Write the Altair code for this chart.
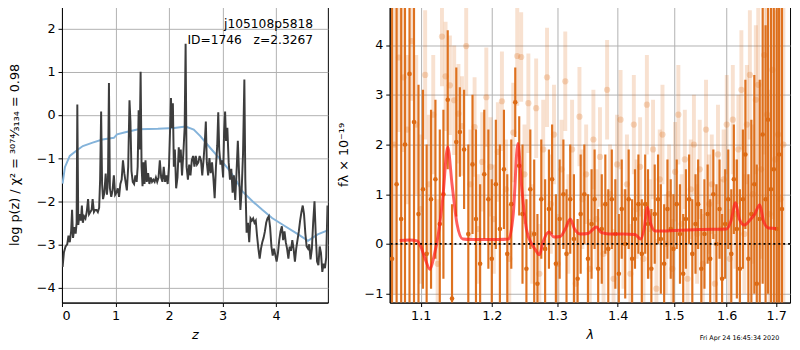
import altair as alt
import pandas as pd

# ---------------- left panel: log p(z) ----------------
pz_z = [0.012, 0.037, 0.067, 0.098, 0.122, 0.146, 0.171, 0.189, 0.207, 0.232, 0.256, 0.274, 0.287, 0.305, 0.329,
        0.354, 0.372, 0.390, 0.415, 0.439, 0.463, 0.488, 0.506, 0.530, 0.555, 0.573, 0.598, 0.622, 0.646, 0.671,
        0.695, 0.713, 0.732, 0.750, 0.768, 0.793, 0.817, 0.841, 0.860, 0.878, 0.896, 0.921, 0.945, 0.970, 0.994,
        1.018, 1.043, 1.067, 1.091, 1.116, 1.140, 1.165, 1.189, 1.213, 1.238, 1.262, 1.280, 1.299, 1.323, 1.348,
        1.372, 1.396, 1.415, 1.433, 1.451, 1.470, 1.488, 1.506, 1.524, 1.543, 1.561, 1.585, 1.610, 1.634, 1.659,
        1.683, 1.707, 1.732, 1.756, 1.780, 1.805, 1.829, 1.854, 1.878, 1.902, 1.927, 1.951, 1.976, 2.000, 2.024,
        2.037, 2.055, 2.073, 2.091, 2.110, 2.134, 2.159, 2.183, 2.201, 2.220, 2.244, 2.268, 2.293, 2.311, 2.329,
        2.354, 2.378, 2.402, 2.427, 2.451, 2.476, 2.500, 2.524, 2.549, 2.573, 2.598, 2.622, 2.646, 2.671, 2.689,
        2.707, 2.732, 2.756, 2.780, 2.805, 2.829, 2.854, 2.878, 2.902, 2.921, 2.939, 2.963, 2.988, 3.012, 3.030,
        3.049, 3.067, 3.091, 3.116, 3.140, 3.165, 3.189, 3.213, 3.238, 3.262, 3.287, 3.311, 3.335, 3.360, 3.384,
        3.409, 3.427, 3.451, 3.476, 3.500, 3.524, 3.549, 3.573, 3.598, 3.622, 3.646, 3.671, 3.695, 3.720, 3.744,
        3.768, 3.793, 3.817, 3.841, 3.866, 3.890, 3.915, 3.939, 3.963, 3.988, 4.012, 4.037, 4.061, 4.085, 4.110,
        4.134, 4.159, 4.183, 4.207, 4.232, 4.256, 4.280, 4.305, 4.329, 4.354, 4.378, 4.402, 4.427, 4.451, 4.476,
        4.500, 4.524, 4.549, 4.573, 4.598, 4.622, 4.646, 4.671, 4.695, 4.720, 4.744, 4.768, 4.793, 4.817, 4.841,
        4.866, 4.890, 4.915, 4.939, 4.963]
pz_logp = [-3.52, -3.18, -3.05, -3.00, -2.80, -2.95, -2.70, -2.20, -2.85, -2.60, -2.75, -2.50, 0.24, -2.55, -2.30,
           -2.45, -2.10, -2.50, -2.35, -2.40, -2.25, -1.95, -2.30, -2.25, -2.20, -1.95, -2.25, -2.20, -2.20, -2.25,
           -2.15, -1.50, 0.08, -1.60, -1.95, -1.80, -1.36, -1.85, -1.50, 0.74, -1.70, -1.90, -1.75, -1.40, -1.85,
           -1.80, -1.70, -1.90, -1.60, -1.50, -1.05, -1.35, -1.55, -1.75, -1.20, 0.34, -0.15, -1.30, -1.55, -1.60,
           -1.40, -1.55, -1.20, 0.11, -0.80, 1.00, -1.20, -1.65, -1.10, -1.60, -1.05, -1.55, -1.35, -1.60, -1.45,
           -1.55, -1.50, -1.55, -1.45, -1.55, -1.45, -1.05, -1.45, -1.55, -1.20, -1.55, -1.40, -1.60, -1.20, -0.20,
           0.39, -0.30, 0.27, -1.20, -0.80, -1.70, -1.45, -0.75, -1.10, -0.80, -1.40, -0.90, -0.30, 1.65, -1.20,
           -1.50, -1.15, -1.40, -1.05, -0.95, -1.20, -0.95, -1.15, -1.10, -0.95, -1.05, -1.40, -1.05, -0.60, -0.15,
           -1.10, -1.40, -1.00, -1.35, -1.10, -1.45, -1.93, -1.20, -0.70, 0.06, -0.80, -1.15, -1.05, -1.45, -0.40,
           0.08, -0.60, -0.30, -1.10, -1.50, -1.25, -1.80, -1.40, -1.97, -1.35, -0.60, -1.40, -2.20, -1.70, -0.90,
           0.82, -1.50, -2.73, -2.50, -2.95, -2.40, -2.45, -2.40, -2.50, -2.45, -2.80, -3.10, -3.33, -3.10, -2.95,
           -2.85, -2.70, -2.50, -2.40, -2.35, -2.60, -3.05, -3.26, -3.10, -3.25, -3.40, -3.20, -2.90, -2.70, -2.58,
           -2.90, -2.70, -2.95, -3.10, -3.33, -3.05, -3.15, -2.90, -3.10, -3.40, -3.10, -2.90, -2.70, -2.45, -2.25,
           -2.10, -2.30, -2.75, -3.05, -3.10, -3.00, -3.35, -3.10, -2.50, -2.00, -2.80, -3.40, -3.48, -3.05, -3.20,
           -3.64, -3.45, -3.55, -3.30, -2.10]

prior_z = [0.012, 0.055, 0.146, 0.268, 0.390, 0.573, 0.756, 0.970, 1.030, 1.183, 1.427, 1.793, 2.098, 2.311, 2.463,
           2.585, 2.768, 2.951, 3.134, 3.256, 3.378, 3.561, 3.744, 3.927, 4.171, 4.415, 4.598, 4.780, 4.976]
prior_logp = [-1.59, -1.21, -0.95, -0.83, -0.72, -0.64, -0.57, -0.53, -0.45, -0.40, -0.33, -0.32, -0.30, -0.27, -0.34,
              -0.49, -0.76, -1.02, -1.29, -1.52, -1.78, -2.00, -2.20, -2.39, -2.58, -2.77, -2.92, -2.77, -2.67]

z_ticks = [0, 1, 2, 3, 4]
logp_ticks = [-4, -3, -2, -1, 0, 1, 2]
annot_name = ["j105108p5818"]
annot_id = ["ID=1746\u00a0\u00a0\u00a0z=2.3267"]

# ---------------- right panel: spectrum ----------------
dark_lam = [1.062, 1.068, 1.074, 1.079, 1.085, 1.091, 1.097, 1.103, 1.108, 1.114, 1.120, 1.126, 1.131, 1.137, 1.143,
            1.149, 1.154, 1.160, 1.166, 1.172, 1.177, 1.183, 1.189, 1.195, 1.200, 1.206, 1.212, 1.218, 1.223, 1.229,
            1.235, 1.241, 1.246, 1.252, 1.258, 1.264, 1.269, 1.275, 1.281, 1.287, 1.292, 1.298, 1.304, 1.310, 1.315,
            1.321, 1.327, 1.333, 1.338, 1.344, 1.350, 1.356, 1.361, 1.367, 1.373, 1.379, 1.384, 1.390, 1.396, 1.402,
            1.407, 1.413, 1.419, 1.425, 1.430, 1.436, 1.442, 1.448, 1.453, 1.459, 1.465, 1.471, 1.476, 1.482, 1.488,
            1.494, 1.499, 1.505, 1.511, 1.517, 1.522, 1.528, 1.534, 1.540, 1.545, 1.551, 1.557, 1.563, 1.568, 1.574,
            1.580, 1.586, 1.591, 1.597, 1.603, 1.609, 1.614, 1.620, 1.626, 1.632, 1.637, 1.643, 1.649, 1.655, 1.660,
            1.666, 1.672, 1.678, 1.683, 1.689, 1.695, 1.701, 1.706, 1.712]
dark_flux = [-0.30, 1.20, 0.50, 2.00, 3.42, 2.45, 0.60, 1.10, -0.20, 0.90, 1.30, 0.40, 1.00, 2.90, -1.10,
             2.05, 2.25, 1.90, 0.20, 1.60, 0.50, -0.40, 1.40, 0.90, -0.30, 1.20, 0.30, 1.50, -0.20, 0.80,
             2.85, 1.57, 0.60, -0.50, 1.10, 0.20, -0.80, 0.90, -0.10, 0.70, 1.30, -0.40, 0.50, 1.00, -0.20,
             0.90, 0.10, -0.70, 0.60, 1.00, -0.30, 0.40, 0.90, -0.50, 0.30, 0.80, -0.10, 0.90, 0.20, -0.60,
             0.70, 0.00, 0.90, -0.30, 0.50, 0.80, -0.20, 0.80, 0.40, -0.50, 0.60, 0.90, 0.10, -0.40, 0.70,
             0.30, -0.10, 0.80, 0.20, -0.60, 0.50, 0.90, -0.20, 0.40, 0.80, -0.50, 0.20, 0.60, -0.30, 1.00,
             0.00, 0.70, -0.70, 0.40, 0.90, -0.20, 1.30, 0.30, -0.50, 0.90, 1.80, -0.30, 0.60, 1.20, -0.80,
             0.50, 2.20, 0.90, 2.50, 1.10, 1.50, 0.30, 1.80, 0.70]
dark_err = [6.0, 6.0, 6.0, 5.0, 5.0, 4.0, 2.6, 2.0, 2.2, 1.8, 1.6, 1.9, 1.7, 1.4, 1.9,
            1.5, 0.9, 1.2, 1.8, 1.4, 1.8, 1.6, 1.3, 1.4, 1.6, 1.3, 1.7, 1.2, 1.6, 1.3,
            0.7, 1.0, 1.4, 1.4, 1.2, 1.5, 1.4, 1.2, 1.4, 1.2, 1.1, 1.4, 1.2, 1.1, 1.3,
            1.1, 1.3, 1.2, 1.2, 1.0, 1.3, 1.1, 1.0, 1.2, 1.1, 1.0, 1.2, 1.0, 1.1, 1.2,
            1.0, 1.1, 1.0, 1.2, 1.0, 1.0, 1.1, 1.0, 1.1, 1.2, 1.0, 0.9, 1.1, 1.2, 1.0,
            1.0, 1.1, 0.9, 1.0, 1.2, 1.0, 0.9, 1.1, 1.0, 0.9, 1.2, 1.1, 1.0, 1.2, 0.9,
            1.2, 1.0, 1.3, 1.1, 1.0, 1.3, 1.1, 1.4, 1.6, 1.4, 1.5, 1.7, 1.9, 2.2, 2.4,
            2.8, 3.0, 3.5, 3.5, 4.5, 5.0, 6.0, 6.0, 6.0]

light_lam = [1.065, 1.071, 1.077, 1.082, 1.088, 1.094, 1.100, 1.106, 1.111, 1.117, 1.123, 1.129, 1.134, 1.140, 1.146,
             1.152, 1.157, 1.163, 1.169, 1.175, 1.180, 1.186, 1.192, 1.198, 1.203, 1.209, 1.215, 1.221, 1.226, 1.232,
             1.238, 1.244, 1.249, 1.255, 1.261, 1.267, 1.272, 1.278, 1.284, 1.290, 1.295, 1.301, 1.307, 1.313, 1.318,
             1.324, 1.330, 1.336, 1.341, 1.347, 1.353, 1.359, 1.364, 1.370, 1.376, 1.382, 1.387, 1.393, 1.399, 1.405,
             1.410, 1.416, 1.422, 1.428, 1.433, 1.439, 1.445, 1.451, 1.456, 1.462, 1.468, 1.474, 1.479, 1.485, 1.491,
             1.497, 1.502, 1.508, 1.514, 1.520, 1.525, 1.531, 1.537, 1.543, 1.548, 1.554, 1.560, 1.566, 1.571, 1.577,
             1.583, 1.589, 1.594, 1.600, 1.606, 1.612, 1.617, 1.623, 1.629, 1.635, 1.640, 1.646, 1.652, 1.658, 1.663,
             1.669, 1.675, 1.681, 1.686, 1.692, 1.698, 1.704, 1.709, 1.715]
light_flux = [2.00, 3.75, 3.35, 2.30, 4.08, 2.40, 0.70, 3.40, 1.20, 2.60, -0.40, 4.17, 3.37, 3.19, 2.89,
              2.62, 2.37, 3.98, 1.20, 2.35, 0.30, 1.65, 2.95, 1.55, 0.50, 1.85, 2.87, 1.10, -0.30, 2.24,
              3.78, 3.76, 1.40, 2.83, 0.20, 2.73, -0.60, 1.90, 3.35, 0.80, 2.20, -0.40, 1.50, 3.27, 0.40,
              1.90, -0.80, 2.56, 0.90, 1.40, -0.50, 2.10, 0.50, 1.75, -0.20, 3.10, 1.00, -0.70, 1.60, 2.50,
              0.10, 1.20, -0.60, 2.40, 0.70, 1.55, -0.30, 2.80, 0.30, 1.90, -0.90, 1.30, 2.20, 0.00, 1.00,
              -0.50, 1.45, 2.60, 0.40, 1.70, -0.70, 1.10, 2.00, 0.20, 1.50, -0.40, 2.30, 0.80, 1.20, -0.80,
              1.80, 0.30, 1.30, 2.40, -0.30, 2.50, 0.60, 1.90, 3.10, 0.20, 2.40, 3.40, 1.00, 2.90, 3.20,
              1.50, 3.80, 2.60, 0.60, 3.50, 1.70, 2.20, 0.90, 2.00]
light_err = [3.0, 1.5, 1.5, 1.5, 1.2, 1.4, 1.5, 1.3, 1.4, 1.2, 1.3, 1.0, 1.1, 1.0, 1.1,
             1.0, 1.0, 1.0, 1.1, 1.0, 1.1, 1.0, 1.0, 1.0, 1.1, 1.0, 1.0, 1.0, 1.1, 1.0,
             1.0, 0.9, 1.0, 1.0, 1.0, 1.0, 1.0, 1.0, 1.0, 1.0, 1.0, 1.0, 1.0, 1.0, 1.0,
             1.0, 1.0, 1.0, 1.0, 1.0, 1.0, 1.0, 1.0, 1.0, 1.0, 1.0, 1.0, 1.0, 1.0, 1.0,
             1.0, 1.0, 1.0, 1.0, 1.0, 1.0, 1.0, 1.0, 1.0, 1.0, 1.0, 1.0, 1.0, 1.0, 1.0,
             1.0, 1.0, 1.0, 1.0, 1.0, 1.0, 1.0, 1.0, 1.0, 1.0, 1.0, 1.0, 1.0, 1.0, 1.0,
             1.0, 1.0, 1.0, 1.0, 1.0, 1.1, 1.1, 1.1, 1.2, 1.2, 1.2, 1.3, 1.4, 1.5, 1.6,
             1.8, 2.0, 2.2, 2.5, 3.0, 3.0, 3.5, 4.0, 4.0]

model_lam = [1.072, 1.085, 1.095, 1.100, 1.106, 1.1125, 1.118, 1.124, 1.130, 1.137, 1.143, 1.150, 1.158, 1.170,
             1.190, 1.210, 1.225, 1.232, 1.239, 1.245, 1.252, 1.260, 1.266, 1.272, 1.278, 1.287, 1.295, 1.305,
             1.313, 1.321, 1.328, 1.337, 1.350, 1.357, 1.364, 1.372, 1.385, 1.410, 1.430, 1.440, 1.446, 1.452,
             1.458, 1.466, 1.480, 1.500, 1.550, 1.600, 1.608, 1.6176, 1.625, 1.635, 1.648, 1.656, 1.666, 1.674,
             1.684, 1.700]
model_flux = [0.07, 0.08, 0.06, -0.05, -0.30, -0.51, -0.25, 0.20, 0.90, 1.95, 1.20, 0.40, 0.10, 0.09,
              0.09, 0.09, 0.10, 0.60, 2.02, 1.10, 0.30, 0.00, -0.12, -0.22, 0.05, 0.24, 0.14, 0.15,
              0.30, 0.50, 0.30, 0.20, 0.21, 0.28, 0.34, 0.23, 0.20, 0.20, 0.19, 0.10, 0.30, 0.74,
              0.40, 0.26, 0.26, 0.27, 0.29, 0.30, 0.45, 0.83, 0.50, 0.38, 0.50, 0.60, 0.79, 0.45,
              0.32, 0.31]

lam_ticks = [1.1, 1.2, 1.3, 1.4, 1.5, 1.6, 1.7]
flux_ticks = [-1, 0, 1, 2, 3, 4]
zero_level = [0.0]
timestamp = ["Fri Apr 24 16:45:34 2020"]

# ---------------- build ----------------
FONT = "DejaVu Sans"
ORANGE = "#dc6a14"
H = 302

pz_df = pd.DataFrame({"z": pz_z, "logp": pz_logp})
prior_df = pd.DataFrame({"z": prior_z, "logp": prior_logp})

zx = alt.X("z:Q", scale=alt.Scale(domain=[0, 4.97], nice=False, zero=False),
           axis=alt.Axis(values=z_ticks, format="d", title="z", titleFontStyle="italic", titlePadding=7))
zy = alt.Y("logp:Q", scale=alt.Scale(domain=[-4.35, 2.52], nice=False, zero=False),
           axis=alt.Axis(values=logp_ticks, format="d",
                         title="log p(z) / χ² = ³⁰⁷⁴⁄₃₁₃₄ = 0.98", titlePadding=15))

prior_line = alt.Chart(prior_df).mark_line(color="#84b3da", strokeWidth=2, clip=True).encode(x=zx, y=zy)
pz_line = alt.Chart(pz_df).mark_line(color="#3d3d3d", strokeWidth=2, clip=True).encode(x=zx, y=zy)
annot1 = alt.Chart(pd.DataFrame({"label": annot_name})).mark_text(
    align="right", baseline="alphabetic", font=FONT, fontSize=12.5, color="black").encode(
    x=alt.value(256), y=alt.value(22), text="label:N")
annot2 = alt.Chart(pd.DataFrame({"label": annot_id})).mark_text(
    align="right", baseline="alphabetic", font=FONT, fontSize=12.5, color="black").encode(
    x=alt.value(256), y=alt.value(38), text="label:N")

left = alt.layer(prior_line, pz_line, annot1, annot2).properties(width=271, height=H)

dark_df = pd.DataFrame({"lam": dark_lam, "flux": dark_flux, "err": dark_err})
dark_df["lo"] = dark_df["flux"] - dark_df["err"]
dark_df["hi"] = dark_df["flux"] + dark_df["err"]
light_df = pd.DataFrame({"lam": light_lam, "flux": light_flux, "err": light_err})
light_df["lo"] = light_df["flux"] - light_df["err"]
light_df["hi"] = light_df["flux"] + light_df["err"]
model_df = pd.DataFrame({"lam": model_lam, "flux": model_flux})
zero_df = pd.DataFrame({"flux": zero_level})
ts_df = pd.DataFrame({"t": timestamp})

lx = alt.X("lam:Q", scale=alt.Scale(type="log", domain=[1.059, 1.729], nice=False, zero=False),
           axis=alt.Axis(values=lam_ticks, format=".1f", title="λ", titleFontStyle="italic", titlePadding=7))
ly_scale = alt.Scale(domain=[-1.18, 4.78], nice=False, zero=False)
ly = alt.Y("flux:Q", scale=ly_scale,
           axis=alt.Axis(values=flux_ticks, format="d", title="fλ × 10⁻¹⁹", titlePadding=14))

light_bars = alt.Chart(light_df).mark_rule(color=ORANGE, strokeWidth=4, opacity=0.2, clip=True).encode(
    x=lx, y=alt.Y("lo:Q", scale=ly_scale), y2="hi:Q")
light_pts = alt.Chart(light_df).mark_circle(color=ORANGE, size=40, opacity=0.25, clip=True).encode(x=lx, y=ly)
dark_bars = alt.Chart(dark_df).mark_rule(color=ORANGE, strokeWidth=2.2, opacity=0.95, clip=True).encode(
    x=lx, y=alt.Y("lo:Q", scale=ly_scale), y2="hi:Q")
dark_pts = alt.Chart(dark_df).mark_circle(color=ORANGE, size=22, opacity=1, clip=True).encode(x=lx, y=ly)
model_line = alt.Chart(model_df).mark_line(color="#ff1a1a", strokeWidth=3, opacity=0.7, clip=True,
                                           interpolate="monotone").encode(x=lx, y=ly)
zero_line = alt.Chart(zero_df).mark_rule(color="black", strokeWidth=1.8, strokeDash=[2, 3]).encode(
    y=alt.Y("flux:Q", scale=ly_scale))
ts = alt.Chart(ts_df).mark_text(align="right", baseline="middle", font=FONT, fontSize=6.5, color="black").encode(
    x=alt.value(397), y=alt.value(338), text="t:N")

right = alt.layer(light_bars, light_pts, dark_bars, dark_pts, model_line, zero_line, ts).properties(
    width=408, height=H)

chart = alt.hconcat(left, right, spacing=8).properties(
    padding={"left": 0, "top": -6, "right": 0, "bottom": 0}
).configure_view(stroke="black", strokeWidth=1).configure_axis(
    labelFont=FONT, labelFontSize=13, titleFont=FONT, titleFontSize=13, titleFontWeight="normal",
    labelColor="black", titleColor="black", tickColor="black", domainColor="black", domainWidth=1,
    tickSize=4, labelPadding=3, grid=True, gridColor="#b0b0b0", gridWidth=1, gridOpacity=1
)

chart.save("out.html", embed_options={"renderer": "svg", "actions": False})
